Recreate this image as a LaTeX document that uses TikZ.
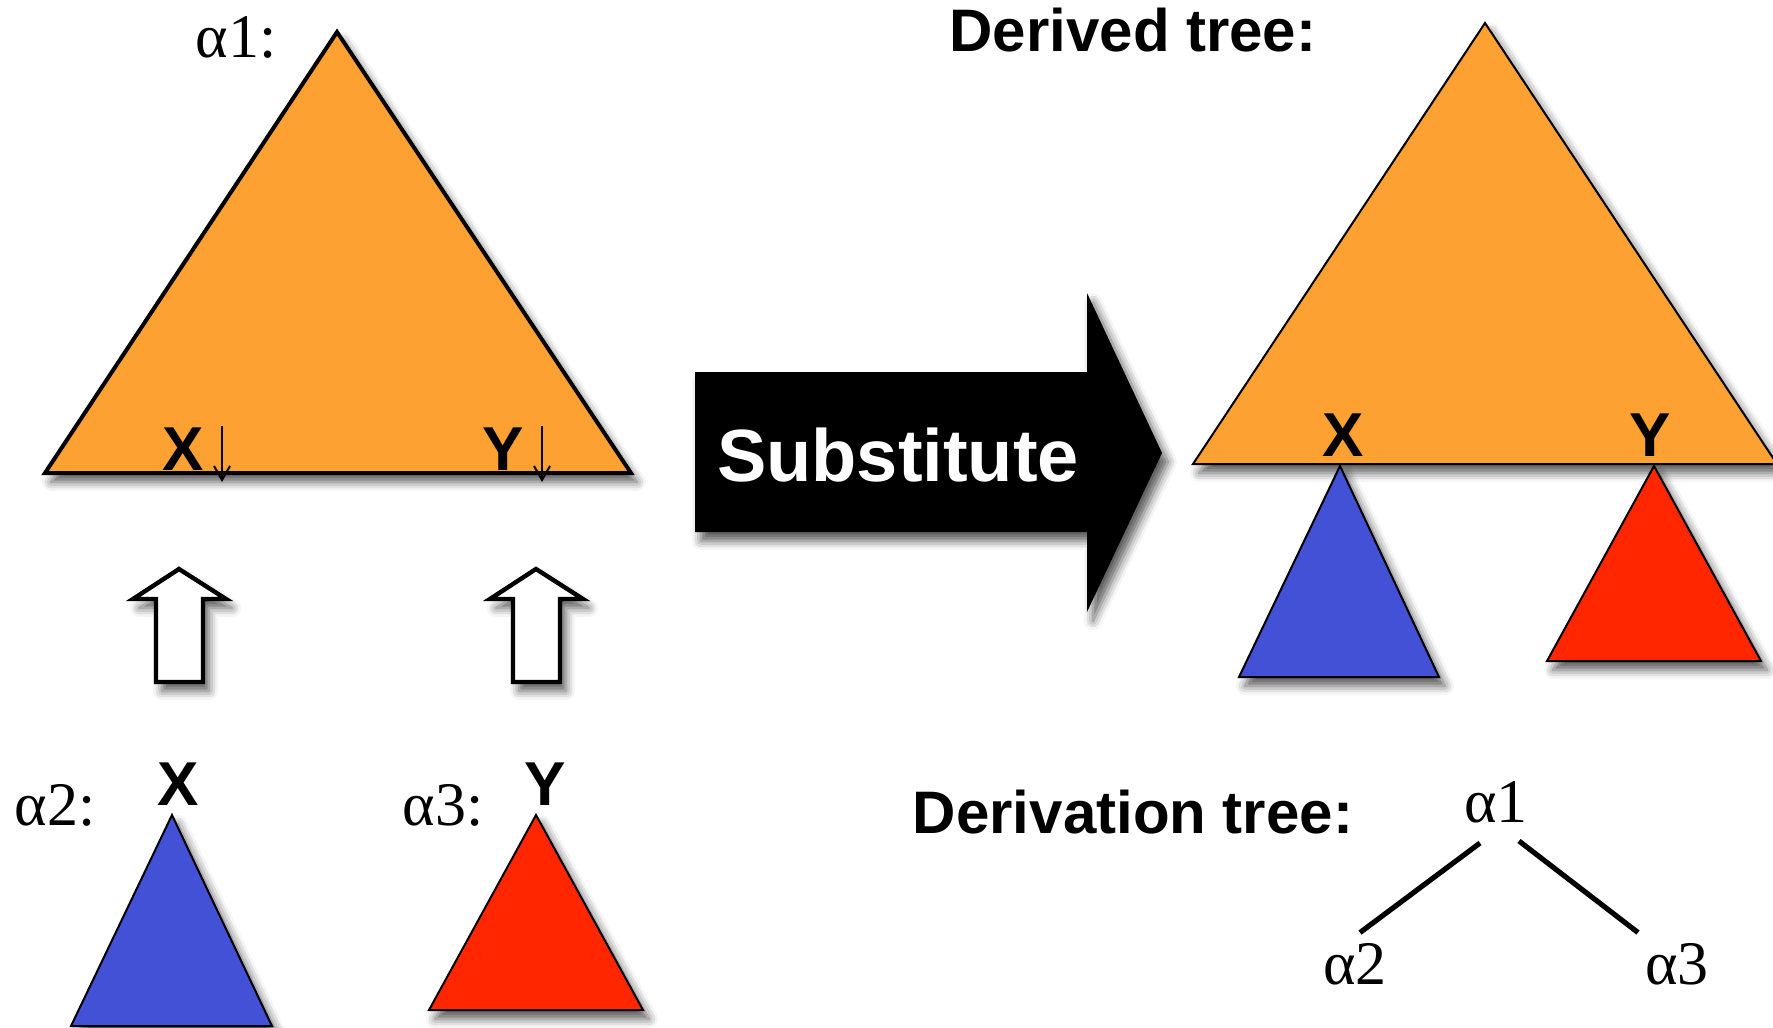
\documentclass[tikz,border=0pt]{standalone}
\usepackage{fontspec}
\setmainfont{Liberation Serif}
\setsansfont{Liberation Sans}
\usetikzlibrary{shadows.blur,arrows.meta}
\definecolor{treeorange}{RGB}{253,161,51}
\definecolor{treeblue}{RGB}{66,81,213}
\definecolor{treered}{RGB}{255,38,0}
\tikzset{
  dropshade/.style={blur shadow={shadow xshift=3pt,shadow yshift=-4.5pt,shadow blur radius=4.5pt,shadow opacity=65}},
  greek/.style={font=\fontsize{31}{31}\selectfont,anchor=base,inner sep=2pt},
  heading/.style={font=\sffamily\bfseries\fontsize{30}{30}\selectfont,anchor=base,inner sep=0pt},
  varlabel/.style={font=\sffamily\bfseries\fontsize{31}{31}\selectfont,anchor=base,inner sep=0pt},
  subst/.style={-{Straight Barb[length=7pt,width=8pt]},line width=1pt},
  edge/.style={line width=2.6pt}
}
\begin{document}
\begin{tikzpicture}[x=0.5pt,y=-0.5pt]
  \useasboundingbox (0,0) rectangle (1773,1028);
  % elementary trees
  \filldraw[fill=treeorange,line width=2pt,miter limit=20,dropshade] (337,32) -- (631,473) -- (45,473) -- cycle;
  \filldraw[fill=treeblue,line width=1pt,miter limit=20,dropshade] (172,815) -- (272,1026) -- (71,1026) -- cycle;
  \filldraw[fill=treered,line width=1pt,miter limit=20,dropshade] (536,815) -- (643,1010) -- (429,1010) -- cycle;
  \node[greek] (a1) at (236,57) {α1:};
  \node[greek] (a2) at (55,825) {α2:};
  \node[greek] (a3) at (443,825) {α3:};
  \node[varlabel] (x1) at (183,470) {X};
  \node[varlabel] (y1) at (503,470) {Y};
  \node[varlabel] (x2) at (178,805) {X};
  \node[varlabel] (y3) at (545,805) {Y};
  \coordinate (xs) at (222,426);
  \coordinate (xe) at (222,482);
  \coordinate (ys) at (542,426);
  \coordinate (ye) at (542,482);
  \draw[subst] (xs) -- (xe);
  \draw[subst] (ys) -- (ye);
  % up arrows
  \foreach \c in {179,536}
    \filldraw[fill=white,line width=2.2pt,miter limit=20,dropshade] (\c,569) -- (\c+47,599) -- (\c+24,599) -- (\c+24,682) -- (\c-23,682) -- (\c-23,599) -- (\c-46,599) -- cycle;
  % substitution
  \fill[black,dropshade] (695,372) -- (1087,372) -- (1087,293) -- (1162,453) -- (1087,612) -- (1087,532) -- (695,532) -- cycle;
  \node[heading,text=white,font=\sffamily\bfseries\fontsize{37}{37}\selectfont] (sub) at (898,481) {Substitute};
  % derived tree
  \node[heading] (derived) at (1133,51) {Derived tree:};
  \filldraw[fill=treeorange,line width=1pt,miter limit=20,dropshade] (1485,23) -- (1777,464) -- (1193,464) -- cycle;
  \filldraw[fill=treeblue,line width=1pt,miter limit=20,dropshade] (1340,466) -- (1439,677) -- (1239,677) -- cycle;
  \filldraw[fill=treered,line width=1pt,miter limit=20,dropshade] (1654,466) -- (1761,661) -- (1547,661) -- cycle;
  \node[varlabel] (xd) at (1343,456) {X};
  \node[varlabel] (yd) at (1650,456) {Y};
  % derivation tree
  \node[heading] (derivation) at (1133,833) {Derivation tree:};
  \node[greek] (d1) at (1496,822) {α1};
  \node[greek] (d2) at (1355,984) {α2};
  \node[greek] (d3) at (1677,984) {α3};
  \draw[edge] ([xshift=-8pt,yshift=-8pt]d1.south) -- ([xshift=2.5pt,yshift=3pt]d2.north);
  \draw[edge] ([xshift=11.5pt,yshift=-7pt]d1.south) -- ([xshift=-19.5pt,yshift=3pt]d3.north);
\end{tikzpicture}
\end{document}
